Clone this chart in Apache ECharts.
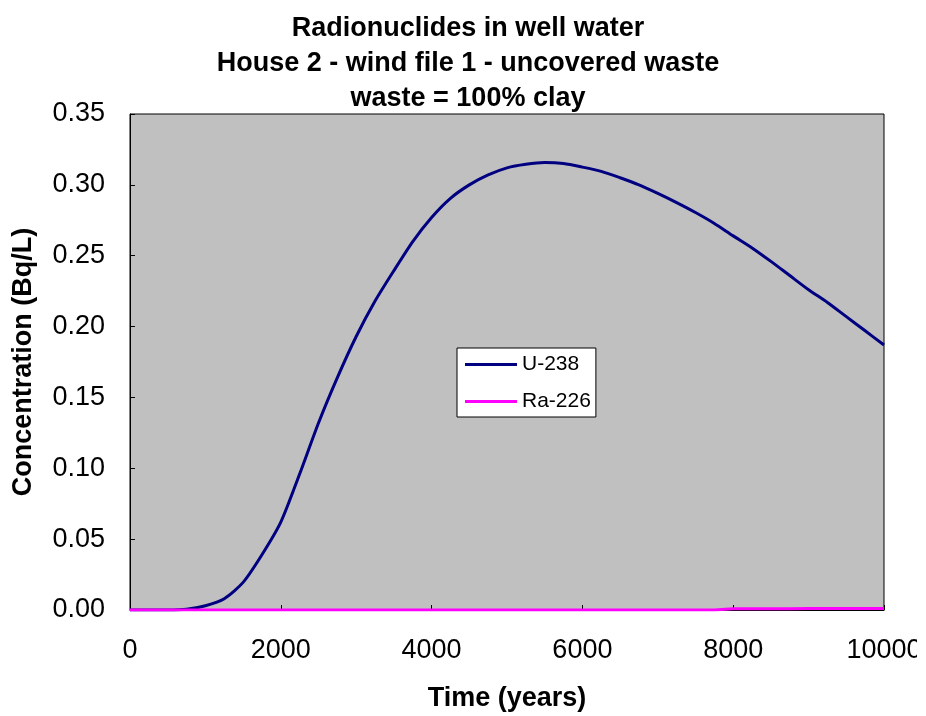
<!DOCTYPE html>
<html>
<head>
<meta charset="utf-8">
<script src="https://cdn.jsdelivr.net/npm/echarts@6/dist/echarts.min.js"></script>
<style>
  html, body { margin: 0; padding: 0; background: #fff; }
  #chart { width: 917px; height: 716px; }
</style>
</head>
<body>
<div id="chart"></div>
<script>
const timeYears = [0,250,500,750,1000,1250,1500,1750,2000,2250,2500,2750,3000,3250,3500,3750,4000,4250,4500,4750,5000,5250,5500,5750,6000,6250,6500,6750,7000,7250,7500,7750,8000,8250,8500,8750,9000,9250,9500,9750,10000];
const u238 = [0,0,0,0.0005,0.003,0.008,0.0195,0.039,0.062,0.096,0.132,0.164,0.193,0.218,0.2395,0.260,0.277,0.2905,0.300,0.307,0.312,0.3145,0.3157,0.315,0.3125,0.3095,0.305,0.300,0.294,0.2875,0.2805,0.2728,0.264,0.2555,0.246,0.236,0.226,0.217,0.207,0.197,0.187];
const ra226 = [0,0,0,0,0,0,0,0,0,0,0,0,0,0,0,0,0,0,0,0,0,0,0,0,0,0,0,0,0,0,0,0,0.0009,0.0009,0.0009,0.0009,0.001,0.001,0.001,0.001,0.001];
const seriesNames = ['U-238','Ra-226'];

const pair = (xs, ys) => xs.map((x, i) => [x, ys[i]]);
const font = 'Liberation Sans, Arial, sans-serif';
const lineIcon = 'path://M0,0 H52 V3 H0 Z';

const chart = echarts.init(document.getElementById('chart'));
chart.setOption({
  animation: false,
  backgroundColor: '#ffffff',
  title: {
    text: 'Radionuclides in well water\nHouse 2 - wind file 1 - uncovered waste\nwaste = 100% clay',
    left: 463, textAlign: 'center', top: 6,
    textStyle: { fontFamily: font, fontSize: 27, fontWeight: 'bold', color: '#000', lineHeight: 35 }
  },
  grid: {
    left: 130, right: 33, top: 114, bottom: 106,
    outerBoundsMode: 'none', containLabel: false,
    show: true, backgroundColor: '#c0c0c0', borderColor: '#000', borderWidth: 1
  },
  legend: {
    orient: 'vertical', left: 457, top: 348,
    backgroundColor: '#ffffff', borderColor: '#000', borderWidth: 1,
    padding: [6, 5, 5, 8], itemGap: 16, itemWidth: 52, itemHeight: 3,
    data: seriesNames.map(n => ({ name: n, icon: lineIcon })),
    textStyle: { fontFamily: font, fontSize: 21, color: '#000' }
  },
  xAxis: {
    type: 'value', min: 0, max: 10000, interval: 2000,
    name: 'Time (years)', nameLocation: 'middle', nameGap: 75,
    nameTextStyle: { fontFamily: font, fontSize: 27, fontWeight: 'bold', color: '#000' },
    axisLine: { lineStyle: { color: '#000', width: 1 } },
    axisTick: { inside: true, length: 5, lineStyle: { color: '#000' } },
    axisLabel: { fontFamily: font, fontSize: 27, color: '#000', margin: 27,
      formatter: v => String(Math.round(v)) },
    splitLine: { show: false }
  },
  yAxis: {
    type: 'value', min: 0, max: 0.35, interval: 0.05,
    name: 'Concentration (Bq/L)', nameLocation: 'middle', nameGap: 93,
    nameTextStyle: { fontFamily: font, fontSize: 27, fontWeight: 'bold', color: '#000' },
    axisLine: { show: true, lineStyle: { color: '#000', width: 1 } },
    axisTick: { inside: true, length: 5, lineStyle: { color: '#000' } },
    axisLabel: { fontFamily: font, fontSize: 27, color: '#000', margin: 25,
      formatter: v => v.toFixed(2) },
    splitLine: { show: false }
  },
  series: [
    { name: seriesNames[0], type: 'line', data: pair(timeYears, u238), symbol: 'none', smooth: 0.25,
      lineStyle: { color: '#000080', width: 3 }, itemStyle: { color: '#000080' } },
    { name: seriesNames[1], type: 'line', data: pair(timeYears, ra226), symbol: 'none',
      lineStyle: { color: '#ff00ff', width: 3 }, itemStyle: { color: '#ff00ff' } }
  ]
});
</script>
</body>
</html>
